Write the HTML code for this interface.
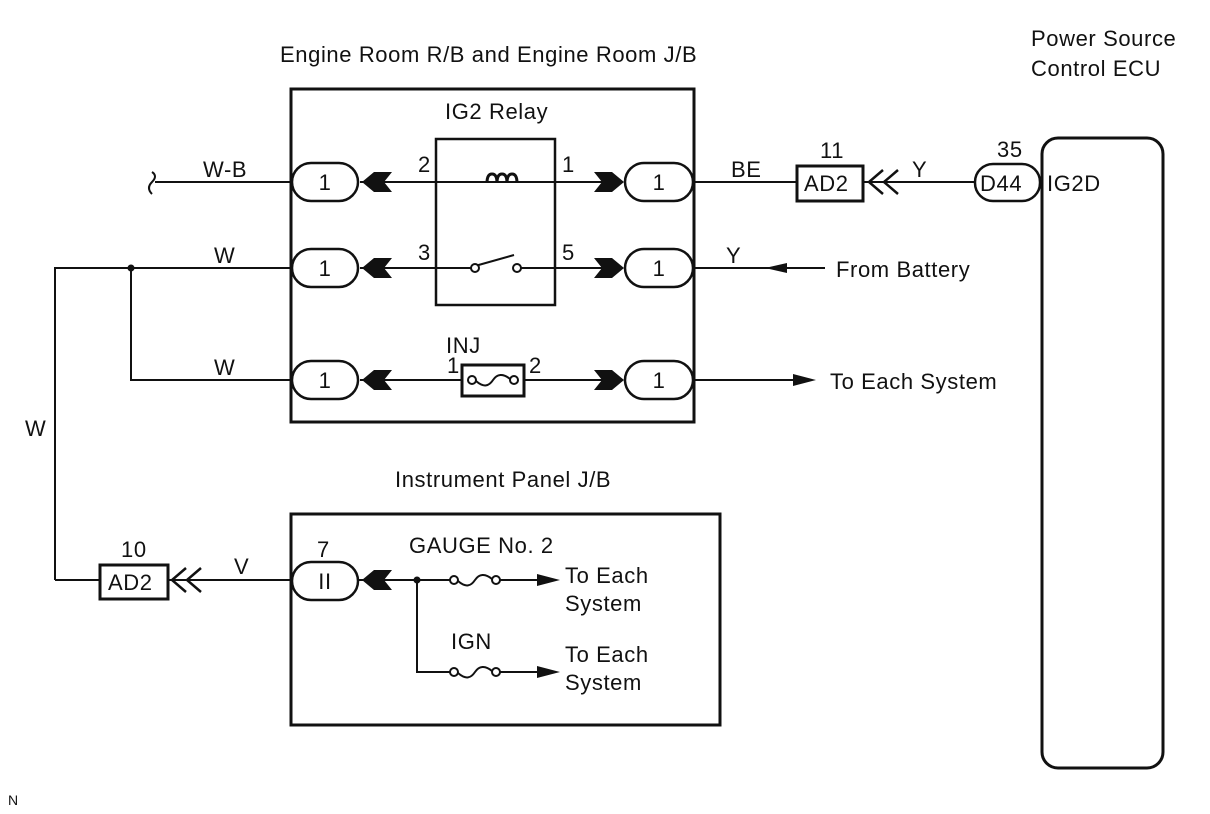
<!DOCTYPE html>
<html><head><meta charset="utf-8"><style>
html,body{margin:0;padding:0;background:#fff;}
svg{display:block;}
text{font-family:"Liberation Sans",sans-serif;font-size:22px;letter-spacing:0.6px;fill:#111;}
</style></head><body>
<svg width="1210" height="814" viewBox="0 0 1210 814" xmlns="http://www.w3.org/2000/svg">
<g stroke="#111" stroke-width="2" fill="none">
<rect x="291" y="89" width="403" height="333" stroke-width="3"/>
<rect x="436" y="139" width="119" height="166" stroke-width="2.5"/>
<rect x="291" y="514" width="429" height="211" stroke-width="3"/>
<rect x="1042" y="138" width="121" height="630" rx="16" stroke-width="3"/>
<path d="M155 182H292"/>
<path d="M152 172q6 4 0 10q-6 6 0 12" />
<path d="M55 580V268H292"/>
<path d="M131 268V380H292"/>
<path d="M360 182H610"/>
<path d="M360 268H471M475 266L514 255M521 268H610"/>
<path d="M360 380H462M524 380H610"/>
<path d="M694 182H797M863 182H975"/>
<path d="M694 268H825"/>
<path d="M694 380H800"/>
<path d="M55 580H100M168 580H292"/>
<path d="M358 580H450M500 580H540"/>
<path d="M417 580V672H450M500 672H540"/>
<rect x="797" y="166" width="66" height="35" stroke-width="3"/>
<rect x="100" y="565" width="68" height="34" stroke-width="3"/>
<path d="M883 170L869 182L883 194M898 170L884 182L898 194" stroke-width="2.5"/>
<path d="M186 568L172 580L186 592M201 568L187 580L201 592" stroke-width="2.5"/>
<rect x="462" y="365" width="62" height="31" stroke-width="3"/>
<circle cx="472" cy="380" r="4" fill="#fff"/><circle cx="514" cy="380" r="4" fill="#fff"/>
<path d="M476 381C484 388 489 386 493 380C497 374 503 373 510 379"/>
<circle cx="454" cy="580" r="4" fill="#fff"/><circle cx="496" cy="580" r="4" fill="#fff"/>
<path d="M458 581C466 588 471 586 475 580C479 574 485 573 492 579"/>
<circle cx="454" cy="672" r="4" fill="#fff"/><circle cx="496" cy="672" r="4" fill="#fff"/>
<path d="M458 673C466 680 471 678 475 672C479 666 485 665 492 671"/>
<path d="M487 183q0 -9 5 -9t5 9q0 -9 5 -9t5 9q0 -9 5 -9t5 9" stroke-width="3"/>
<circle cx="475" cy="268" r="4" fill="#fff"/><circle cx="517" cy="268" r="4" fill="#fff"/>
<rect x="292" y="163" width="66" height="38" rx="19" fill="#fff" stroke-width="2.5"/>
<rect x="292" y="249" width="66" height="38" rx="19" fill="#fff" stroke-width="2.5"/>
<rect x="292" y="361" width="66" height="38" rx="19" fill="#fff" stroke-width="2.5"/>
<rect x="625" y="163" width="68" height="38" rx="19" fill="#fff" stroke-width="2.5"/>
<rect x="625" y="249" width="68" height="38" rx="19" fill="#fff" stroke-width="2.5"/>
<rect x="625" y="361" width="68" height="38" rx="19" fill="#fff" stroke-width="2.5"/>
<rect x="292" y="562" width="66" height="38" rx="19" fill="#fff" stroke-width="2.5"/>
<rect x="975" y="164" width="65" height="37" rx="18" fill="#fff" stroke-width="2.5"/>
</g>
<g fill="#111">
<path d="M362 182L374 172H392L384 182L392 192H374Z"/>
<path d="M362 268L374 258H392L384 268L392 278H374Z"/>
<path d="M362 380L374 370H392L384 380L392 390H374Z"/>
<path d="M362 580L374 570H392L384 580L392 590H374Z"/>
<path d="M624 182L612 172H594L602 182L594 192H612Z"/>
<path d="M624 268L612 258H594L602 268L594 278H612Z"/>
<path d="M624 380L612 370H594L602 380L594 390H612Z"/>
<path d="M765 268L787 263V273Z"/>
<path d="M816 380L793 374V386Z"/>
<path d="M560 580L537 574V586Z"/>
<path d="M560 672L537 666V678Z"/>
<circle cx="131" cy="268" r="3.5"/>
<circle cx="417" cy="580" r="3.5"/>
</g>
<text x="280" y="62">Engine Room R/B and Engine Room J/B</text>
<text x="1031" y="46">Power Source</text>
<text x="1031" y="76">Control ECU</text>
<text x="445" y="119">IG2 Relay</text>
<text x="418" y="172">2</text><text x="562" y="172">1</text>
<text x="418" y="260">3</text><text x="562" y="260">5</text>
<text x="446" y="353">INJ</text>
<text x="447" y="373">1</text><text x="529" y="373">2</text>
<text x="203" y="177">W-B</text>
<text x="214" y="263">W</text>
<text x="214" y="375">W</text>
<text x="25" y="436">W</text>
<text x="731" y="177">BE</text>
<text x="726" y="263">Y</text>
<text x="912" y="177">Y</text>
<text x="820" y="158">11</text>
<text x="997" y="157">35</text>
<text x="804" y="191">AD2</text>
<text x="980" y="191">D44</text>
<text x="1047" y="191">IG2D</text>
<text x="836" y="277">From Battery</text>
<text x="830" y="389">To Each System</text>
<g text-anchor="middle">
<text x="325" y="190">1</text><text x="325" y="276">1</text><text x="325" y="388">1</text>
<text x="659" y="190">1</text><text x="659" y="276">1</text><text x="659" y="388">1</text>
<text x="325" y="589">II</text>
</g>
<text x="395" y="487">Instrument Panel J/B</text>
<text x="121" y="557">10</text>
<text x="108" y="590">AD2</text>
<text x="234" y="574">V</text>
<text x="317" y="557">7</text>
<text x="409" y="553">GAUGE No. 2</text>
<text x="565" y="583">To Each</text>
<text x="565" y="611">System</text>
<text x="451" y="649">IGN</text>
<text x="565" y="662">To Each</text>
<text x="565" y="690">System</text>
<text x="8" y="805" style="font-size:14px">N</text>
</svg>
</body></html>
